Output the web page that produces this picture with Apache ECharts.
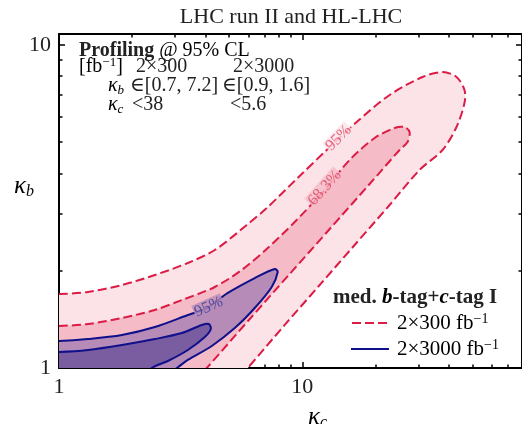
<!DOCTYPE html>
<html><head><meta charset="utf-8">
<script src="https://cdn.jsdelivr.net/npm/echarts@6/dist/echarts.min.js"></script>
<style>html,body{margin:0;padding:0;background:#fff}#c{width:522px;height:424px}</style>
</head><body><div id="c"></div>
<script>
// ---- axes / ticks ----
const xRange = [1, 80];
const yRange = [1, 10.8];
const xMajorTicks = [1, 10];
const xMinorTicks = [2, 3, 4, 5, 6, 7, 8, 9, 20, 30, 40, 50, 60, 70, 80];
const yMajorTicks = [1, 10];
const yMinorTicks = [2, 3, 4, 5, 6, 7, 8, 9];
const xTickLabels = [1, 10];
const yTickLabels = [1, 10];

// ---- contours [kappa_c, kappa_b] ----
const red95 = [
  [1.0,1.694],[1.315,1.719],[1.814,1.806],[2.478,1.940],[3.386,2.113],[4.369,2.318],
  [5.912,2.770],[7.143,3.126],[9.757,3.928],[12.60,4.727],[16.73,5.770],[22.85,6.994],
  [31.21,7.950],[37.71,8.236],[43.04,7.950],[46.42,7.247],[46.42,6.605],[43.04,5.568],
  [37.71,4.727],[30.34,4.100],[22.85,3.194],[16.41,2.402],[11.79,1.806],[8.467,1.359],
  [5.968,1.0],[4.6,0.8],[0.8,0.8],[0.8,1.694]
];
const red68 = [
  [1.0,1.349],[1.315,1.368],[1.814,1.428],[2.478,1.512],[3.198,1.623],[4.369,1.781],
  [5.640,2.011],[7.211,2.351],[9.307,2.830],[12.36,3.554],[15.65,4.401],[19.83,5.148],
  [23.95,5.528],[26.33,5.568],[27.60,5.373],[27.08,5.005],[25.11,4.727],[18.91,3.709],
  [12.96,2.692],[8.876,1.954],[6.082,1.418],[4.051,1.0],[3.1,0.8],[0.8,0.8],[0.8,1.349]
];
const blue95 = [
  [1.0,1.212],[1.315,1.229],[1.814,1.265],[2.478,1.339],[3.386,1.459],[4.051,1.533],
  [4.941,1.707],[6.376,1.898],[7.702,2.025],[7.925,1.982],[7.487,1.781],[6.376,1.533],
  [5.278,1.329],[4.247,1.170],[3.386,1.059],[3.051,1.0],[2.6,0.918],[2.3,0.8],[0.8,0.8],[0.8,1.212]
];
const blue68 = [
  [1.0,1.121],[1.315,1.137],[1.814,1.178],[2.478,1.229],[3.198,1.283],[3.864,1.359],
  [4.128,1.368],[4.207,1.320],[3.976,1.247],[3.386,1.137],[2.803,1.051],[2.408,1.0],
  [2.0,0.85],[0.8,0.8],[0.8,1.121]
];
// contour labels: [kappa_c, kappa_b]
const labelRed95 = [14.11, 5.148];
const labelRed68 = [12.36, 3.606];
const labelBlue95 = [4.128, 1.544];

const SERIF = "'Liberation Serif', 'DejaVu Serif', serif";
const C = {
  pinkLight: '#fbe3e8', pinkMid: '#f5bcc7', purpleLight: '#b68bb7', purpleDark: '#7a5ca0',
  red: '#dc1c45', navy: '#10108a'
};

function polySeries(name, pts, fill, stroke, dash, z) {
  return {
    type: 'custom', name, xAxisIndex: 0, yAxisIndex: 0, clip: true, z, silent: true,
    data: pts, encode: {x: 0, y: 1},
    renderItem: (params, api) => {
      if (params.dataIndex !== 0) return null;
      const p = pts.map(d => api.coord(d));
      return {type: 'polygon', shape: {points: p, smooth: 0.3},
        style: {fill, stroke, lineWidth: 2, lineDash: dash}};
    }
  };
}
function labelSeries(pos, text, rot, color, bg, z) {
  return {
    type: 'scatter', xAxisIndex: 0, yAxisIndex: 0, symbolSize: 0, silent: true, z,
    data: [pos],
    label: {show: true, position: 'inside', formatter: text, rotate: rot, color,
      backgroundColor: bg, padding: [0, 1], fontFamily: SERIF, fontSize: 16}
  };
}

function axisSet(dim, pos, major, minor, labels, range) {
  const base = {type: 'log', logBase: 10, min: range[0], max: range[1], position: pos,
    splitLine: {show: false}, axisPointer: {show: false}};
  return [
    Object.assign({}, base, {
      axisLine: {show: true, lineStyle: {color: '#000', width: 2}},
      axisTick: {show: true, inside: true, length: 6, customValues: major, lineStyle: {color: '#000', width: 1.5}},
      axisLabel: labels ? {show: true, customValues: labels, fontFamily: SERIF, fontSize: 22, color: '#222', margin: dim === 'x' ? 8 : 8} : {show: false}
    }),
    Object.assign({}, base, {
      axisLine: {show: false},
      axisTick: {show: true, inside: true, length: 3.5, customValues: minor, lineStyle: {color: '#000', width: 1.5}},
      axisLabel: {show: false}
    })
  ];
}

const chart = echarts.init(document.getElementById('c'), null, {renderer: 'canvas'});
const FS = 20;
const txt = (x, y, text, extra) => Object.assign({type: 'text', x, y, style: Object.assign({
  text, fontFamily: SERIF, fontSize: FS, fill: '#222', verticalAlign: 'middle'}, extra || {})});
const rich = {
  b: {fontWeight: 'bold', fontFamily: SERIF, fontSize: FS, fill: '#222', lineHeight: 22},
  t: {fontFamily: SERIF, fontSize: FS, lineHeight: 22},
  i: {fontFamily: SERIF, fontSize: FS, fontStyle: 'italic', lineHeight: 22},
  sup: {fontFamily: SERIF, fontSize: 13, verticalAlign: 'top', lineHeight: 22},
  sub: {fontFamily: SERIF, fontSize: 13, fontStyle: 'italic', verticalAlign: 'bottom', lineHeight: 22},
  bi: {fontWeight: 'bold', fontFamily: SERIF, fontSize: FS, fontStyle: 'italic', lineHeight: 22}
};
const richL = {
  b: Object.assign({}, rich.b, {fontSize: 21}),
  bi: Object.assign({}, rich.bi, {fontSize: 21}),
  t: Object.assign({}, rich.t, {fontSize: 21}),
  sup: Object.assign({}, rich.sup, {fontSize: 14})
};
const richAx = {
  i: {fontFamily: SERIF, fontSize: 25, fontStyle: 'italic', lineHeight: 28},
  sub: {fontFamily: SERIF, fontSize: 16, fontStyle: 'italic', verticalAlign: 'bottom', lineHeight: 28}
};

chart.setOption({
  animation: false,
  grid: {left: 59, top: 34, width: 463.5, height: 334, containLabel: false},
  xAxis: [...axisSet('x', 'bottom', xMajorTicks, xMinorTicks, xTickLabels, xRange),
          ...axisSet('x', 'top', xMajorTicks, xMinorTicks, null, xRange)],
  yAxis: [...axisSet('y', 'left', yMajorTicks, yMinorTicks, yTickLabels, yRange),
          ...axisSet('y', 'right', yMajorTicks, yMinorTicks, null, yRange)],
  series: [
    polySeries('red95', red95, C.pinkLight, C.red, [9, 4], 1),
    polySeries('red68', red68, C.pinkMid, C.red, [9, 4], 2),
    polySeries('blue95', blue95, C.purpleLight, C.navy, null, 3),
    polySeries('blue68', blue68, C.purpleDark, C.navy, null, 4),
    labelSeries(labelRed95, '95%', 45, '#e0405f', C.pinkLight, 6),
    labelSeries(labelRed68, '68.3%', 48, '#e0405f', C.pinkMid, 6),
    labelSeries(labelBlue95, '95%', 24, '#3a3a9a', C.purpleLight, 6)
  ],
  graphic: [
    txt(291, 17, 'LHC run II and HL-LHC', {fontSize: 22, align: 'center'}),
    {type: 'text', x: 79, y: 51, style: {rich, verticalAlign: 'middle', text: '{b|Profiling}{t| @ 95% CL}'}},
    {type: 'text', x: 79, y: 67, style: {rich, verticalAlign: 'middle', text: '{t|[fb}{sup|−1}{t|]}'}},
    txt(136, 67, '2×300'),
    txt(233, 67, '2×3000'),
    {type: 'text', x: 108, y: 86, style: {rich, verticalAlign: 'middle', text: '{i|κ}{sub|b}'}},
    txt(130, 86, '∈[0.7, 7.2]'),
    txt(222, 86, '∈[0.9, 1.6]'),
    {type: 'text', x: 108, y: 105, style: {rich, verticalAlign: 'middle', text: '{i|κ}{sub|c}'}},
    txt(132, 105, '<38'),
    txt(230, 105, '<5.6'),
    {type: 'text', x: 14, y: 186, style: {rich: richAx, verticalAlign: 'middle', text: '{i|κ}{sub|b}'}},
    {type: 'text', x: 308, y: 417, style: {rich: richAx, verticalAlign: 'middle', text: '{i|κ}{sub|c}'}},
    {type: 'text', x: 333, y: 298, style: {rich: richL, verticalAlign: 'middle', text: '{b|med. }{bi|b}{b|-tag+}{bi|c}{b|-tag I}'}},
    {type: 'line', shape: {x1: 352, y1: 323, x2: 388, y2: 323}, style: {stroke: C.red, lineWidth: 2, lineDash: [9, 4]}},
    {type: 'text', x: 397, y: 323, style: {rich: richL, verticalAlign: 'middle', text: '{t|2×300 fb}{sup|−1}'}},
    {type: 'line', shape: {x1: 351, y1: 349, x2: 389, y2: 349}, style: {stroke: C.navy, lineWidth: 2}},
    {type: 'text', x: 397, y: 349, style: {rich: richL, verticalAlign: 'middle', text: '{t|2×3000 fb}{sup|−1}'}}
  ]
});
</script>
</body></html>
